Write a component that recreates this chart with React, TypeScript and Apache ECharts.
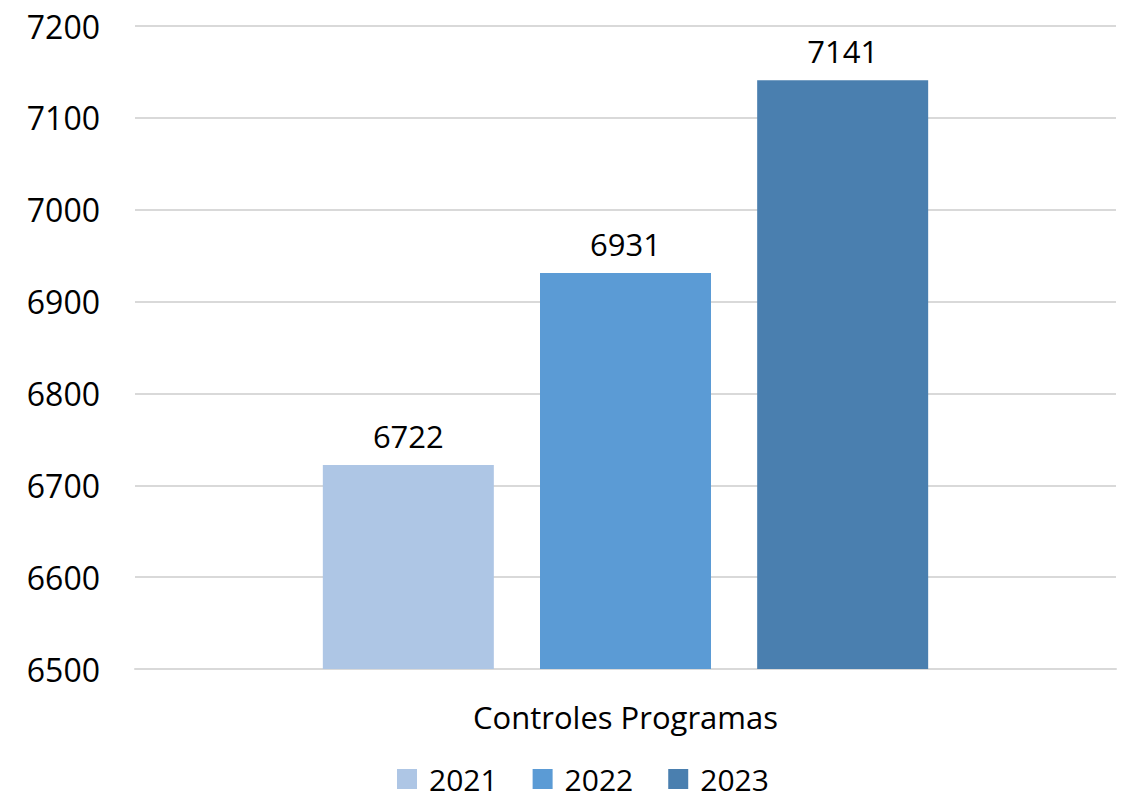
import React, { useEffect, useRef } from "react";
import * as echarts from "echarts";

const categories = ["Controles Programas"];
const seriesNames = ["2021", "2022", "2023"];
const values2021 = [6722];
const values2022 = [6931];
const values2023 = [7141];
const colors = ["#AEC6E5", "#5B9BD5", "#4A7FAF"];
const FONT = "'Open Sans', 'Noto Sans', sans-serif";

export default function App() {
  const ref = useRef<HTMLDivElement>(null);
  useEffect(() => {
    if (!ref.current) return;
    const chart = echarts.init(ref.current, null, { renderer: "svg" });
    const allValues = [values2021, values2022, values2023];
    chart.setOption({
      animation: false,
      textStyle: { fontFamily: FONT },
      grid: { left: 135, right: 6, top: 26, bottom: 131, containLabel: false },
      legend: {
        data: seriesNames,
        left: 397,
        top: 764,
        padding: 0,
        itemWidth: 20,
        itemHeight: 20,
        itemGap: 35,
        icon: "rect",
        textStyle: { fontSize: 30, lineHeight: 30, color: "#000", fontFamily: FONT, padding: [0, 0, 0, 7] },
      },
      xAxis: {
        type: "category",
        data: categories,
        axisTick: { show: false },
        axisLine: { show: true, lineStyle: { color: "#D9D9D9", width: 2 } },
        axisLabel: { fontSize: 31, color: "#000", margin: 32, fontFamily: FONT },
      },
      yAxis: {
        type: "value",
        min: 6500,
        max: 7200,
        interval: 100,
        axisLine: { show: false },
        axisTick: { show: false },
        splitLine: { lineStyle: { color: "#D9D9D9", width: 2 } },
        axisLabel: {
          fontSize: 32,
          color: "#000",
          margin: 35,
          fontFamily: FONT,
          formatter: (v: number) => String(v),
        },
      },
      series: seriesNames.map((name, i) => ({
        name,
        type: "bar",
        data: allValues[i],
        barWidth: 171,
        barGap: "27%",
        itemStyle: { color: colors[i] },
        label: {
          show: true,
          position: "top",
          distance: 14,
          fontSize: 31,
          color: "#000",
          fontFamily: FONT,
        },
      })),
    });
    return () => chart.dispose();
  }, []);
  return (
    <div
      ref={ref}
      style={{ position: "fixed", left: 0, top: 0, width: 1122, height: 800, background: "#fff" }}
    />
  );
}
